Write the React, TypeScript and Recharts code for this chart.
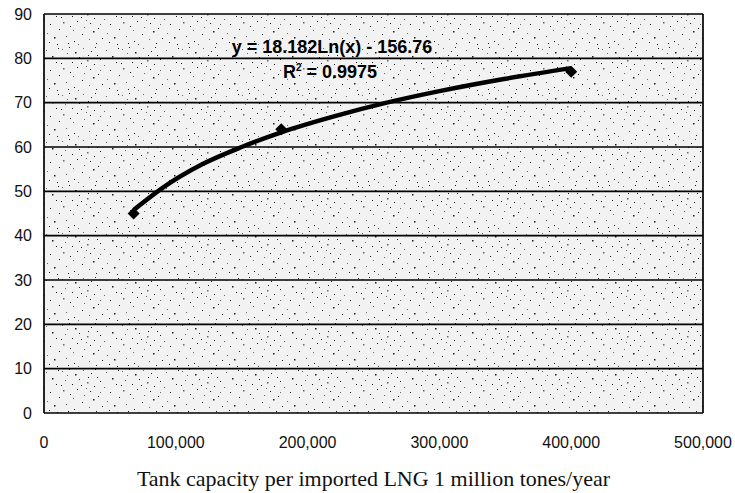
import {
  ComposedChart, Line, Scatter, XAxis, YAxis, CartesianGrid, Customized, Label,
} from "recharts";

// measured points (tank capacity vs value)
const capacity = [68000, 180000, 400000];
const values = [45, 64, 77];

// logarithmic trendline
const trendX = [68000, 90000, 120000, 150000, 180000, 220000, 260000, 300000, 350000, 400000];
const trendY = [45.8, 50.8, 56.1, 60.0, 63.3, 66.9, 70.0, 72.6, 75.4, 77.8];

const xTicks = [0, 100000, 200000, 300000, 400000, 500000];
const yTicks = [0, 10, 20, 30, 40, 50, 60, 70, 80, 90];

const equation = "y = 18.182Ln(x) - 156.76";
const rSquared = "0.9975";

const points = capacity.map((x, i) => ({ x, y: values[i] }));
const trend = trendX.map((x, i) => ({ x, y: trendY[i] }));

// speckle texture of the scanned plot area
const specks: [number, number, number][] = [
  [2, 3, 1], [9, 1, 1], [15, 6, 1.5], [23, 2, 1], [31, 5, 1], [37, 9, 1],
  [5, 12, 1], [12, 16, 1], [19, 11, 1], [27, 14, 1.5], [34, 18, 1], [40, 13, 1],
  [3, 22, 1.5], [10, 26, 1], [17, 21, 1], [24, 27, 1], [30, 23, 1], [38, 28, 1],
  [7, 7, 1], [21, 17, 1], [35, 1, 1], [13, 30, 1], [28, 9, 1], [1, 17, 1],
  [46, 4, 1], [52, 10, 1.5], [58, 2, 1], [44, 19, 1], [50, 24, 1], [56, 16, 1],
  [47, 33, 1], [54, 37, 1.5], [59, 29, 1], [6, 36, 1], [14, 41, 1], [22, 34, 1],
  [29, 39, 1], [36, 43, 1], [42, 38, 1], [18, 44, 1], [33, 31, 1.5], [8, 43, 1],
  [26, 20, 1], [49, 42, 1], [57, 44, 1], [40, 24, 1],
];

const fmt = (v: number) => v.toLocaleString("en-US");

const Diamond = (props: any) => {
  const { cx, cy } = props;
  return <path d={`M${cx},${cy - 6} L${cx + 6},${cy} L${cx},${cy + 6} L${cx - 6},${cy} Z`} fill="#000" />;
};

const Equation = () => (
  <g fontFamily="'Liberation Sans', Arial, sans-serif" fontWeight="bold" fill="#000">
    <text x={332} y={53} fontSize={18} textAnchor="middle">{equation}</text>
    <text x={330} y={78} fontSize={18} textAnchor="middle">
      R<tspan dy={-7} fontSize={10}>2</tspan><tspan dy={7}> = {rSquared}</tspan>
    </text>
  </g>
);

export default function App() {
  return (
    <div style={{ position: "absolute", left: 0, top: 0, width: 735, height: 493, background: "#fff" }}>
      <svg width={0} height={0} style={{ position: "absolute" }}>
        <defs>
          <pattern id="speckle" width={60} height={46} patternUnits="userSpaceOnUse">
            <rect width={60} height={46} fill="#f2f2f2" />
            {specks.map(([x, y, r], i) => (
              <rect key={i} x={x} y={y} width={r} height={r} fill={i % 3 === 0 ? "#666" : "#1a1a1a"} />
            ))}
          </pattern>
        </defs>
      </svg>
      <ComposedChart width={735} height={493} margin={{ top: 14, right: 32, bottom: 0, left: 0 }}>
        <CartesianGrid
          fill="url(#speckle)"
          stroke="#000"
          strokeWidth={1.7}
          verticalPoints={[44, 703]}
        />
        <XAxis
          type="number"
          dataKey="x"
          domain={[0, 500000]}
          ticks={xTicks}
          tickFormatter={fmt}
          axisLine={false}
          tickLine={false}
          tickSize={0}
          tickMargin={24}
          height={80}
          tick={{ fontSize: 16, fill: "#111", fontFamily: "'Liberation Sans', Arial, sans-serif" }}
        >
          <Label
            value="Tank capacity per imported LNG 1 million tones/year"
            position="insideBottom"
            offset={7}
            style={{ fontSize: 22, fill: "#111", fontFamily: "'Liberation Serif', 'DejaVu Serif', serif" }}
          />
        </XAxis>
        <YAxis
          type="number"
          dataKey="y"
          domain={[0, 90]}
          ticks={yTicks}
          axisLine={false}
          tickLine={false}
          tickSize={0}
          tickMargin={12}
          width={44}
          tick={{ fontSize: 16, fill: "#111", fontFamily: "'Liberation Sans', Arial, sans-serif" }}
        />
        <Line
          data={trend}
          dataKey="y"
          type="monotone"
          stroke="#000"
          strokeWidth={4.5}
          dot={false}
          isAnimationActive={false}
        />
        <Scatter data={points} dataKey="y" shape={<Diamond />} isAnimationActive={false} />
        <Customized component={Equation} />
      </ComposedChart>
    </div>
  );
}
